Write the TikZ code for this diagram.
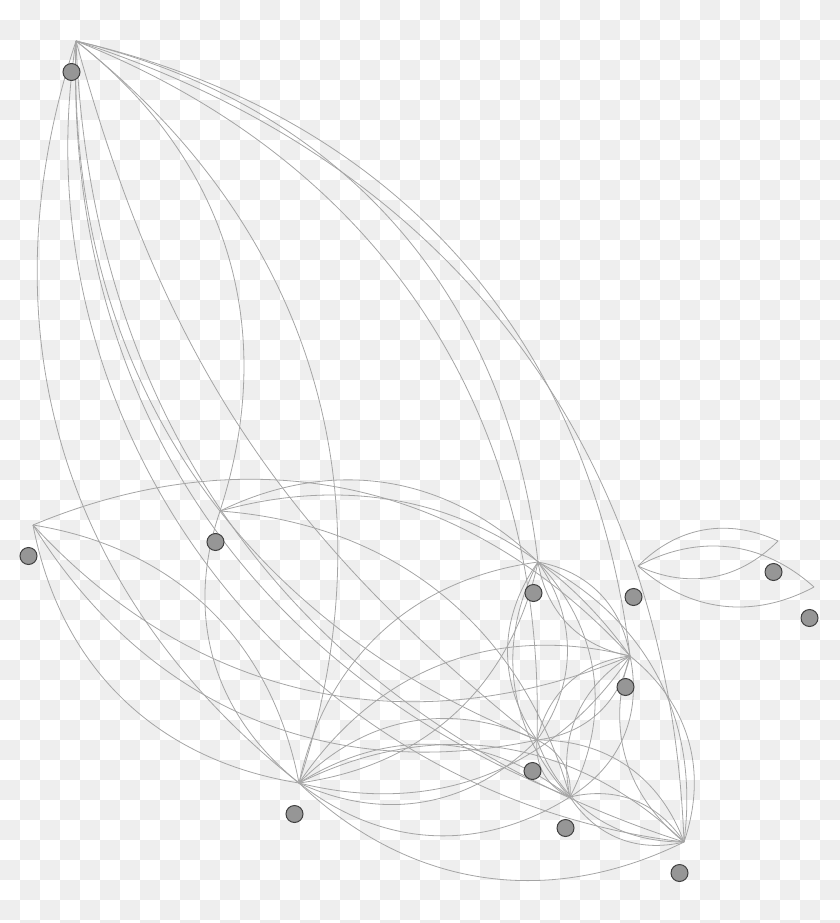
\documentclass[tikz,border=0pt]{standalone}
\usepackage{tikz}
\usetikzlibrary{positioning}
\definecolor{tilegray}{RGB}{238,238,238}
\definecolor{linkgray}{RGB}{165,165,165}
\definecolor{dotgray}{RGB}{150,150,150}
\tikzstyle{every node}=[inner sep=0pt]
\tikzstyle{vertex} = [circle,draw=black!75,fill=dotgray,line width=1pt,minimum size=17pt]
\tikzstyle{link} = [draw=linkgray,line width=0.8pt]

\begin{document}
\begin{tikzpicture}[x=1pt,y=-1pt]
\useasboundingbox (0,0) rectangle (840,923);

% background tiles
\foreach \r in {0,2,...,46}
\foreach \c in {1,3,...,41}
{\fill[tilegray] (20*\c,20*\r) rectangle +(20,20);}
\foreach \r in {1,3,...,45}
\foreach \c in {0,2,...,40}
{\fill[tilegray] (20*\c,20*\r) rectangle +(20,20);}

% edge ends
\coordinate (pA) at (76,41);
\coordinate (pB) at (33,525);
\coordinate (pC) at (220,511);
\coordinate (pD) at (538,562);
\coordinate (pE) at (638,566);
\coordinate (pF) at (630,656);
\coordinate (pG) at (537,740);
\coordinate (pH) at (299,783);
\coordinate (pI) at (570,797);
\coordinate (pJ) at (684,842);
\coordinate (pK) at (778,541);
\coordinate (pL) at (814,587);

% edges
\foreach \s/\t in {E/K,K/E,E/L,L/E,
  A/J,A/F,A/D,A/G,A/C,A/H,H/A,G/A,I/A,J/A,
  B/F,F/B,G/B,B/H,H/B,
  C/F,C/I,H/C,C/D,
  D/F,F/D,D/G,G/D,D/I,I/D,D/J,H/D,D/H,
  F/G,G/F,F/I,I/F,F/J,J/F,H/F,F/H,
  G/I,I/G,G/J,J/G,H/G,G/H,
  I/J,J/I,H/I,I/H,
  J/H,H/J}
{\draw[link] (p\s) to[bend left=35] (p\t);}
\draw[link] (pA) to[bend right=18] (pG);
\draw[link] (pJ) to[bend left=46] (pA);

% vertices
\foreach \v in {A,B,C,D,E,F,G,H,I,J,K,L}
{\node[vertex] (v\v) at ([shift={(-4.5,31)}]p\v) {};}
\end{tikzpicture}
\end{document}
